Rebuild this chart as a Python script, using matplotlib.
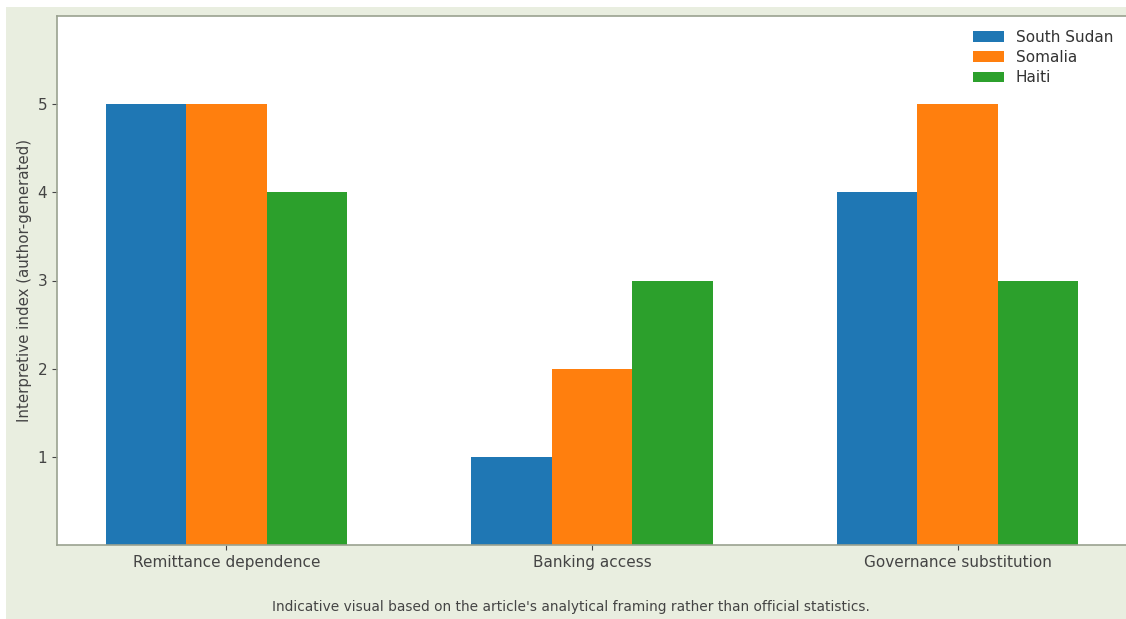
import matplotlib.pyplot as plt
from matplotlib.patches import Rectangle
import numpy as np

# chart data
categories = ["Remittance dependence", "Banking access", "Governance substitution"]
countries = ["South Sudan", "Somalia", "Haiti"]
south_sudan = [5, 1, 4]
somalia = [5, 2, 5]
haiti = [4, 3, 3]
colors = ["#1f77b4", "#ff7f0e", "#2ca02c"]

W, H = 1126, 619
fig = plt.figure(figsize=(W / 100, H / 100), dpi=100, facecolor="white")
# greenish page background (screenshot look)
fig.patches.append(Rectangle((6 / W, 0), 1, (H - 7) / H, transform=fig.transFigure,
                             facecolor="#e9eee0", edgecolor="none", zorder=-10))

ax = fig.add_axes([57 / W, (H - 545) / H, (1127 - 57) / W, (545 - 16) / H])
ax.set_facecolor("white")

x = np.arange(len(categories))
w = 0.22
for i, (vals, name) in enumerate(zip([south_sudan, somalia, haiti], countries)):
    ax.bar(x + (i - 1) * w, vals, w, label=name, color=colors[i])

ax.set_ylim(0, 6)
ax.set_yticks([1, 2, 3, 4, 5])
ax.set_xticks(x)
ax.set_xticklabels(categories)
ax.set_ylabel("Interpretive index (author-generated)", fontsize=10.8, color="#444444", labelpad=4)
ax.tick_params(labelsize=11, colors="#444444")
for s in ax.spines.values():
    s.set_color("#9aa290")
    s.set_linewidth(1.2)

ax.legend(loc="upper right", frameon=False, fontsize=11, labelcolor="#333333",
          bbox_to_anchor=(1.0, 1.0), labelspacing=0.35)

fig.text(571 / W, 1 - 607 / H, "Indicative visual based on the article's analytical framing rather than official statistics.",
         ha="center", va="center", fontsize=9.9, color="#444444")

fig.savefig("out.png", dpi=100, facecolor=fig.get_facecolor())
